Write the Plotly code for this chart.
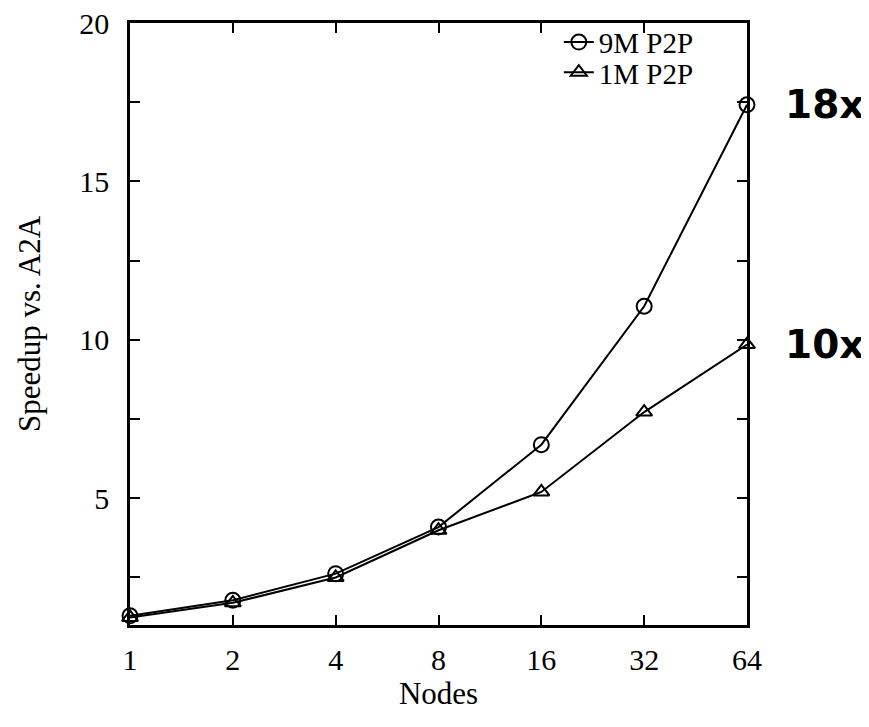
import plotly.graph_objects as go
import math

nodes = [1, 2, 4, 8, 16, 32, 64]
node_labels = ["1", "2", "4", "8", "16", "32", "64"]
speedup_9m = [1.29, 1.78, 2.62, 4.09, 6.69, 11.06, 17.42]
speedup_1m = [1.24, 1.70, 2.50, 3.99, 5.20, 7.72, 9.85]
series_names = ["9M P2P", "1M P2P"]
y_tickvals = [2.5, 5, 7.5, 10, 12.5, 15, 17.5, 20]
y_ticktext = ["", "5", "", "10", "", "15", "", "20"]
callouts = ["18x", "10x"]

serif = "Liberation Serif, Times New Roman, serif"

fig = go.Figure()
fig.add_trace(go.Scatter(
    x=nodes, y=speedup_9m, name=series_names[0], mode="lines+markers",
    line=dict(color="black", width=2),
    marker=dict(symbol="circle-open", size=15, color="black", line=dict(width=2)),
    cliponaxis=False, legend="legend",
))
fig.add_trace(go.Scatter(
    x=nodes, y=speedup_1m, name=series_names[1], mode="lines+markers",
    line=dict(color="black", width=2),
    marker=dict(symbol="triangle-up-open", size=14, color="black", line=dict(width=2)),
    cliponaxis=False, legend="legend2",
))

for txt, val in zip(callouts, [speedup_9m[-1], speedup_1m[-1]]):
    fig.add_annotation(
        x=math.log10(nodes[-1]), y=val, xref="x", yref="y", text=txt,
        showarrow=False, xanchor="right", yanchor="middle", xshift=119,
        font=dict(family="DejaVu Sans", size=39, color="black", weight="bold"),
    )

leg_common = dict(xanchor="left", yanchor="middle", bgcolor="rgba(0,0,0,0)",
                  font=dict(family=serif, size=29), borderwidth=0)

fig.update_layout(
    width=869, height=727,
    margin=dict(l=122, r=130, t=15, b=110, autoexpand=False),
    paper_bgcolor="white", plot_bgcolor="white",
    font=dict(family=serif, size=30, color="black"),
    showlegend=True,
    legend=dict(x=0.695, y=0.968, **leg_common),
    legend2=dict(x=0.695, y=0.918, **leg_common),
)
fig.update_xaxes(
    type="log", range=[0, math.log10(64)],
    tickvals=nodes, ticktext=node_labels,
    showline=True, linecolor="black", linewidth=2.5, mirror="ticks",
    ticks="inside", ticklen=10, tickwidth=2, tickcolor="black",
    showgrid=False, zeroline=False, ticklabelstandoff=6,
    tickfont=dict(size=30), ticklabeloverflow="allow",
    title=dict(text="Nodes", standoff=0, font=dict(size=31)),
)
fig.update_yaxes(
    range=[1, 20], tickvals=y_tickvals, ticktext=y_ticktext,
    showline=True, linecolor="black", linewidth=2.5, mirror="ticks",
    ticks="inside", ticklen=10, tickwidth=2, tickcolor="black",
    showgrid=False, zeroline=False, ticklabelstandoff=12,
    tickfont=dict(size=30), ticklabeloverflow="allow",
    title=dict(text="Speedup vs. A2A", standoff=30, font=dict(size=31)),
)

fig.write_html("out.html")
